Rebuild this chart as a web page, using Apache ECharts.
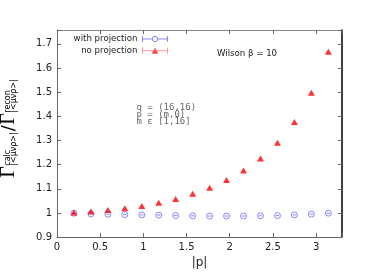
<!DOCTYPE html>
<html>
<head>
<meta charset="utf-8">
<script src="https://cdn.jsdelivr.net/npm/echarts@6/dist/echarts.min.js"></script>
<style>
html,body{margin:0;padding:0;background:#fff;}
#chart{width:387px;height:274px;}
</style>
</head>
<body>
<div id="chart"></div>
<script>
// ---- data ----
const pAbs = [0.196, 0.393, 0.589, 0.785, 0.982, 1.178, 1.374, 1.571, 1.767, 1.963, 2.160, 2.356, 2.553, 2.749, 2.945, 3.142];
const withProjection = [0.999, 0.996, 0.995, 0.993, 0.992, 0.991, 0.989, 0.988, 0.987, 0.987, 0.987, 0.988, 0.989, 0.992, 0.995, 0.999];
const noProjection = [1.002, 1.006, 1.012, 1.019, 1.029, 1.042, 1.058, 1.079, 1.104, 1.136, 1.176, 1.225, 1.290, 1.376, 1.497, 1.667];
const seriesNames = ['with projection', 'no projection'];
const xTickLabels = ['0', '0.5', '1', '1.5', '2', '2.5', '3'];
const yTickLabels = ['0.9', '1', '1.1', '1.2', '1.3', '1.4', '1.5', '1.6', '1.7'];
const annotationLines = ['q = (16,16)', 'p = (m,0)', 'm ε [1,16]'];
const wilsonLabel = 'Wilson β = 10';
const xName = '|p|';

const chart = echarts.init(document.getElementById('chart'), null, {renderer: 'canvas'});

const AX = '#666';
const LBL = '#222';
const SANS = 'DejaVu Sans';

function fmt(list) {
  return function (v) {
    const s = String(parseFloat(v.toFixed(3)));
    return list.indexOf(s) >= 0 ? s : '';
  };
}

// measure text for the composed y-axis title
const mctx = document.createElement('canvas').getContext('2d');
function tw(text, font) { mctx.font = font; return mctx.measureText(text).width; }

const gFont = '20px "Liberation Serif"';
const sFont = '8px "DejaVu Sans"';
const slFont = '18px "DejaVu Sans"';
const parts = [];
let cx = 0;
function addGamma(sup, sub) {
  parts.push({type: 'text', x: cx, y: 0, style: {text: 'Γ', font: gFont, fill: '#000', align: 'left', verticalAlign: 'middle'}});
  cx += tw('Γ', gFont) + 0.5;
  parts.push({type: 'text', x: cx, y: -1, style: {text: sup, font: sFont, fill: '#000', align: 'left', verticalAlign: 'middle'}});
  parts.push({type: 'text', x: cx, y: 5, style: {text: sub, font: sFont, fill: '#000', align: 'left', verticalAlign: 'middle'}});
  cx += Math.max(tw(sup, sFont), tw(sub, sFont)) + 1;
}
addGamma('calc', '|<μνρ>|');
parts.push({type: 'text', x: cx, y: 0, style: {text: '/', font: slFont, fill: '#000', align: 'left', verticalAlign: 'middle'}});
cx += tw('/', slFont) + 0.5;
addGamma('recon', '|<μνρ>|');
const totalLen = cx;
const labelCenterY = 128;

const option = {
  animation: false,
  backgroundColor: '#fff',
  grid: {left: 57, right: 45, top: 30, bottom: 33, containLabel: false},
  legend: {
    orient: 'vertical',
    right: 217,
    top: 33.5,
    align: 'right',
    padding: 0,
    itemWidth: 25,
    itemHeight: 6,
    itemGap: 1.7,
    textStyle: {fontSize: 8.6, fontFamily: SANS, color: LBL},
    data: [
      {name: seriesNames[0],
       icon: 'path://M0,0L0,6M0,3L9.8,3M15.2,3L25,3M25,0L25,6M15.2,3A2.7,2.7 0 1,1 9.8,3A2.7,2.7 0 1,1 15.2,3Z',
       itemStyle: {color: 'none', borderColor: '#6a6aff', borderWidth: 1}},
      {name: seriesNames[1],
       icon: 'path://M0,0L0,6M0,3L25,3M25,0L25,6M9.5,5.8L12.5,0.4L15.5,5.8Z',
       itemStyle: {color: '#ff0000', borderColor: '#ff7f7f', borderWidth: 1}}
    ]
  },
  xAxis: [{
    type: 'value', min: 0, max: 3.3, interval: 0.5, position: 'bottom',
    name: xName, nameLocation: 'middle', nameGap: 15,
    nameTextStyle: {fontSize: 12, fontFamily: SANS, color: LBL},
    axisLine: {show: true, onZero: false, lineStyle: {color: AX, width: 1}},
    axisTick: {show: true, inside: true, length: 4, lineStyle: {color: AX}},
    axisLabel: {margin: 5, fontSize: 10, fontFamily: SANS, color: LBL, formatter: fmt(xTickLabels), showMaxLabel: true},
    splitLine: {show: false}
  }, {
    type: 'value', min: 0, max: 3.3, interval: 0.5, position: 'top',
    axisLine: {show: true, onZero: false, lineStyle: {color: '#888', width: 1}},
    axisTick: {show: true, inside: true, length: 4, lineStyle: {color: AX}},
    axisLabel: {show: false},
    splitLine: {show: false}
  }],
  yAxis: [{
    type: 'value', min: 0.9, max: 1.757, interval: 0.1, position: 'left',
    axisLine: {show: true, onZero: false, lineStyle: {color: AX, width: 1}},
    axisTick: {show: true, inside: true, length: 4, lineStyle: {color: AX}},
    axisLabel: {margin: 5, fontSize: 10, fontFamily: SANS, color: LBL, formatter: fmt(yTickLabels)},
    splitLine: {show: false}
  }, {
    type: 'value', min: 0.9, max: 1.757, interval: 0.1, position: 'right',
    axisLine: {show: true, onZero: false, lineStyle: {color: '#000', width: 1.5}},
    axisTick: {show: true, inside: true, length: 4, lineStyle: {color: AX}},
    axisLabel: {show: false},
    splitLine: {show: false}
  }],
  series: [{
    name: seriesNames[0], type: 'scatter',
    symbol: 'path://M0,5A5,5 0 1,1 10,5A5,5 0 1,1 0,5ZM2,5L8,5',
    symbolSize: 6,
    itemStyle: {color: 'none', borderColor: '#5a5aff', borderWidth: 0.9},
    data: pAbs.map((x, i) => [x, withProjection[i]]),
    z: 2
  }, {
    name: seriesNames[1], type: 'scatter',
    symbol: 'triangle', symbolSize: [7, 6],
    itemStyle: {color: '#ff0000'},
    data: pAbs.map((x, i) => [x, noProjection[i]]),
    z: 3
  }],
  graphic: [
    {type: 'group', x: 9, y: labelCenterY + totalLen / 2, rotation: Math.PI / 2, children: parts},
    {type: 'text', x: 217, y: 54, style: {text: wilsonLabel, font: '8.6px "DejaVu Sans"', fill: LBL, verticalAlign: 'middle'}},
    {type: 'text', x: 136.5, y: 107.5, style: {text: annotationLines[0], font: '9px "DejaVu Sans Mono"', fill: '#666', verticalAlign: 'middle'}},
    {type: 'text', x: 136.5, y: 114.5, style: {text: annotationLines[1], font: '9px "DejaVu Sans Mono"', fill: '#666', verticalAlign: 'middle'}},
    {type: 'text', x: 136.5, y: 121.5, style: {text: annotationLines[2], font: '9px "DejaVu Sans Mono"', fill: '#666', verticalAlign: 'middle'}}
  ]
};
chart.setOption(option);
</script>
</body>
</html>
